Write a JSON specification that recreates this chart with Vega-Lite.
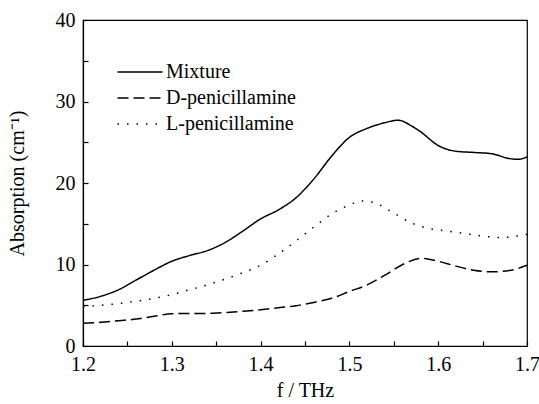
{
  "$schema": "https://vega.github.io/schema/vega-lite/v6.json",
  "width": 444,
  "height": 326,
  "autosize": {"type": "none"},
  "padding": {"left": 83, "top": 20, "right": 12, "bottom": 58},
  "background": "white",
  "config": {
    "view": {"stroke": "black", "strokeWidth": 1.2},
    "font": "Liberation Serif, Times New Roman, serif",
    "axis": {
      "grid": false,
      "domainColor": "black",
      "domainWidth": 1.2,
      "tickColor": "black",
      "tickWidth": 1.2,
      "tickSize": -5,
      "labelFont": "Liberation Serif, Times New Roman, serif",
      "labelFontSize": 20,
      "labelColor": "black",
      "titleFont": "Liberation Serif, Times New Roman, serif",
      "titleFontSize": 20,
      "titleFontWeight": "normal",
      "titleColor": "black"
    }
  },
  "data": {
    "values": [
      {"f": 1.20, "a": 5.6, "s": "Mixture"},
      {"f": 1.22, "a": 6.1, "s": "Mixture"},
      {"f": 1.24, "a": 6.9, "s": "Mixture"},
      {"f": 1.26, "a": 8.1, "s": "Mixture"},
      {"f": 1.28, "a": 9.3, "s": "Mixture"},
      {"f": 1.30, "a": 10.4, "s": "Mixture"},
      {"f": 1.32, "a": 11.1, "s": "Mixture"},
      {"f": 1.34, "a": 11.7, "s": "Mixture"},
      {"f": 1.36, "a": 12.7, "s": "Mixture"},
      {"f": 1.38, "a": 14.1, "s": "Mixture"},
      {"f": 1.40, "a": 15.6, "s": "Mixture"},
      {"f": 1.42, "a": 16.7, "s": "Mixture"},
      {"f": 1.44, "a": 18.2, "s": "Mixture"},
      {"f": 1.46, "a": 20.5, "s": "Mixture"},
      {"f": 1.48, "a": 23.3, "s": "Mixture"},
      {"f": 1.50, "a": 25.6, "s": "Mixture"},
      {"f": 1.52, "a": 26.7, "s": "Mixture"},
      {"f": 1.54, "a": 27.4, "s": "Mixture"},
      {"f": 1.555, "a": 27.7, "s": "Mixture"},
      {"f": 1.57, "a": 27.0, "s": "Mixture"},
      {"f": 1.58, "a": 26.3, "s": "Mixture"},
      {"f": 1.60, "a": 24.6, "s": "Mixture"},
      {"f": 1.62, "a": 23.9, "s": "Mixture"},
      {"f": 1.64, "a": 23.75, "s": "Mixture"},
      {"f": 1.66, "a": 23.6, "s": "Mixture"},
      {"f": 1.68, "a": 23.0, "s": "Mixture"},
      {"f": 1.69, "a": 22.9, "s": "Mixture"},
      {"f": 1.70, "a": 23.2, "s": "Mixture"},
      {"f": 1.20, "a": 2.8, "s": "D-penicillamine"},
      {"f": 1.22, "a": 2.9, "s": "D-penicillamine"},
      {"f": 1.24, "a": 3.1, "s": "D-penicillamine"},
      {"f": 1.26, "a": 3.3, "s": "D-penicillamine"},
      {"f": 1.28, "a": 3.65, "s": "D-penicillamine"},
      {"f": 1.30, "a": 3.95, "s": "D-penicillamine"},
      {"f": 1.32, "a": 4.0, "s": "D-penicillamine"},
      {"f": 1.34, "a": 4.0, "s": "D-penicillamine"},
      {"f": 1.36, "a": 4.1, "s": "D-penicillamine"},
      {"f": 1.38, "a": 4.25, "s": "D-penicillamine"},
      {"f": 1.40, "a": 4.45, "s": "D-penicillamine"},
      {"f": 1.42, "a": 4.7, "s": "D-penicillamine"},
      {"f": 1.44, "a": 4.95, "s": "D-penicillamine"},
      {"f": 1.46, "a": 5.35, "s": "D-penicillamine"},
      {"f": 1.48, "a": 5.85, "s": "D-penicillamine"},
      {"f": 1.50, "a": 6.7, "s": "D-penicillamine"},
      {"f": 1.52, "a": 7.5, "s": "D-penicillamine"},
      {"f": 1.54, "a": 8.7, "s": "D-penicillamine"},
      {"f": 1.56, "a": 10.0, "s": "D-penicillamine"},
      {"f": 1.58, "a": 10.75, "s": "D-penicillamine"},
      {"f": 1.60, "a": 10.4, "s": "D-penicillamine"},
      {"f": 1.62, "a": 9.8, "s": "D-penicillamine"},
      {"f": 1.64, "a": 9.3, "s": "D-penicillamine"},
      {"f": 1.66, "a": 9.1, "s": "D-penicillamine"},
      {"f": 1.68, "a": 9.25, "s": "D-penicillamine"},
      {"f": 1.70, "a": 9.9, "s": "D-penicillamine"},
      {"f": 1.20, "a": 4.8, "s": "L-penicillamine"},
      {"f": 1.22, "a": 5.0, "s": "L-penicillamine"},
      {"f": 1.24, "a": 5.2, "s": "L-penicillamine"},
      {"f": 1.26, "a": 5.5, "s": "L-penicillamine"},
      {"f": 1.28, "a": 5.85, "s": "L-penicillamine"},
      {"f": 1.30, "a": 6.3, "s": "L-penicillamine"},
      {"f": 1.32, "a": 6.9, "s": "L-penicillamine"},
      {"f": 1.34, "a": 7.5, "s": "L-penicillamine"},
      {"f": 1.36, "a": 8.2, "s": "L-penicillamine"},
      {"f": 1.38, "a": 9.0, "s": "L-penicillamine"},
      {"f": 1.40, "a": 9.9, "s": "L-penicillamine"},
      {"f": 1.42, "a": 11.3, "s": "L-penicillamine"},
      {"f": 1.44, "a": 12.9, "s": "L-penicillamine"},
      {"f": 1.46, "a": 14.6, "s": "L-penicillamine"},
      {"f": 1.48, "a": 16.2, "s": "L-penicillamine"},
      {"f": 1.50, "a": 17.3, "s": "L-penicillamine"},
      {"f": 1.515, "a": 17.8, "s": "L-penicillamine"},
      {"f": 1.53, "a": 17.5, "s": "L-penicillamine"},
      {"f": 1.55, "a": 16.3, "s": "L-penicillamine"},
      {"f": 1.57, "a": 15.1, "s": "L-penicillamine"},
      {"f": 1.59, "a": 14.4, "s": "L-penicillamine"},
      {"f": 1.61, "a": 14.1, "s": "L-penicillamine"},
      {"f": 1.63, "a": 13.8, "s": "L-penicillamine"},
      {"f": 1.65, "a": 13.5, "s": "L-penicillamine"},
      {"f": 1.67, "a": 13.3, "s": "L-penicillamine"},
      {"f": 1.69, "a": 13.5, "s": "L-penicillamine"},
      {"f": 1.70, "a": 13.7, "s": "L-penicillamine"}
    ]
  },
  "mark": {"type": "line", "interpolate": "monotone", "color": "black", "strokeWidth": 1.5},
  "encoding": {
    "x": {
      "field": "f", "type": "quantitative",
      "scale": {"domain": [1.2, 1.7], "nice": false, "zero": false},
      "axis": {
        "title": "f / THz",
        "values": [1.2, 1.25, 1.3, 1.35, 1.4, 1.45, 1.5, 1.55, 1.6, 1.65, 1.7],
        "labelExpr": "round(datum.value*100) % 10 == 0 ? format(datum.value, '.1f') : ''",
        "labelPadding": 13,
        "titlePadding": 6,
        "labelFlush": false
      }
    },
    "y": {
      "field": "a", "type": "quantitative",
      "scale": {"domain": [0, 40], "nice": false},
      "axis": {
        "title": "Absorption (cm⁻¹)",
        "values": [0, 5, 10, 15, 20, 25, 30, 35, 40],
        "labelExpr": "datum.value % 10 == 0 ? datum.value : ''",
        "labelPadding": 13,
        "titlePadding": 28,
        "labelFlush": false
      }
    },
    "strokeDash": {
      "field": "s", "type": "nominal",
      "scale": {
        "domain": ["Mixture", "D-penicillamine", "L-penicillamine"],
        "range": [[1, 0], [11, 5], [1.5, 8]]
      },
      "legend": {
        "title": null,
        "orient": "none",
        "legendX": 47,
        "legendY": 42,
        "symbolType": "M-2.5,0H2.5",
        "symbolSize": 324,
        "symbolStrokeWidth": 1.5,
        "symbolStrokeColor": "black",
        "labelFont": "Liberation Serif, Times New Roman, serif",
        "labelFontSize": 20,
        "labelColor": "black",
        "labelOffset": 16,
        "rowPadding": 6
      }
    }
  }
}
